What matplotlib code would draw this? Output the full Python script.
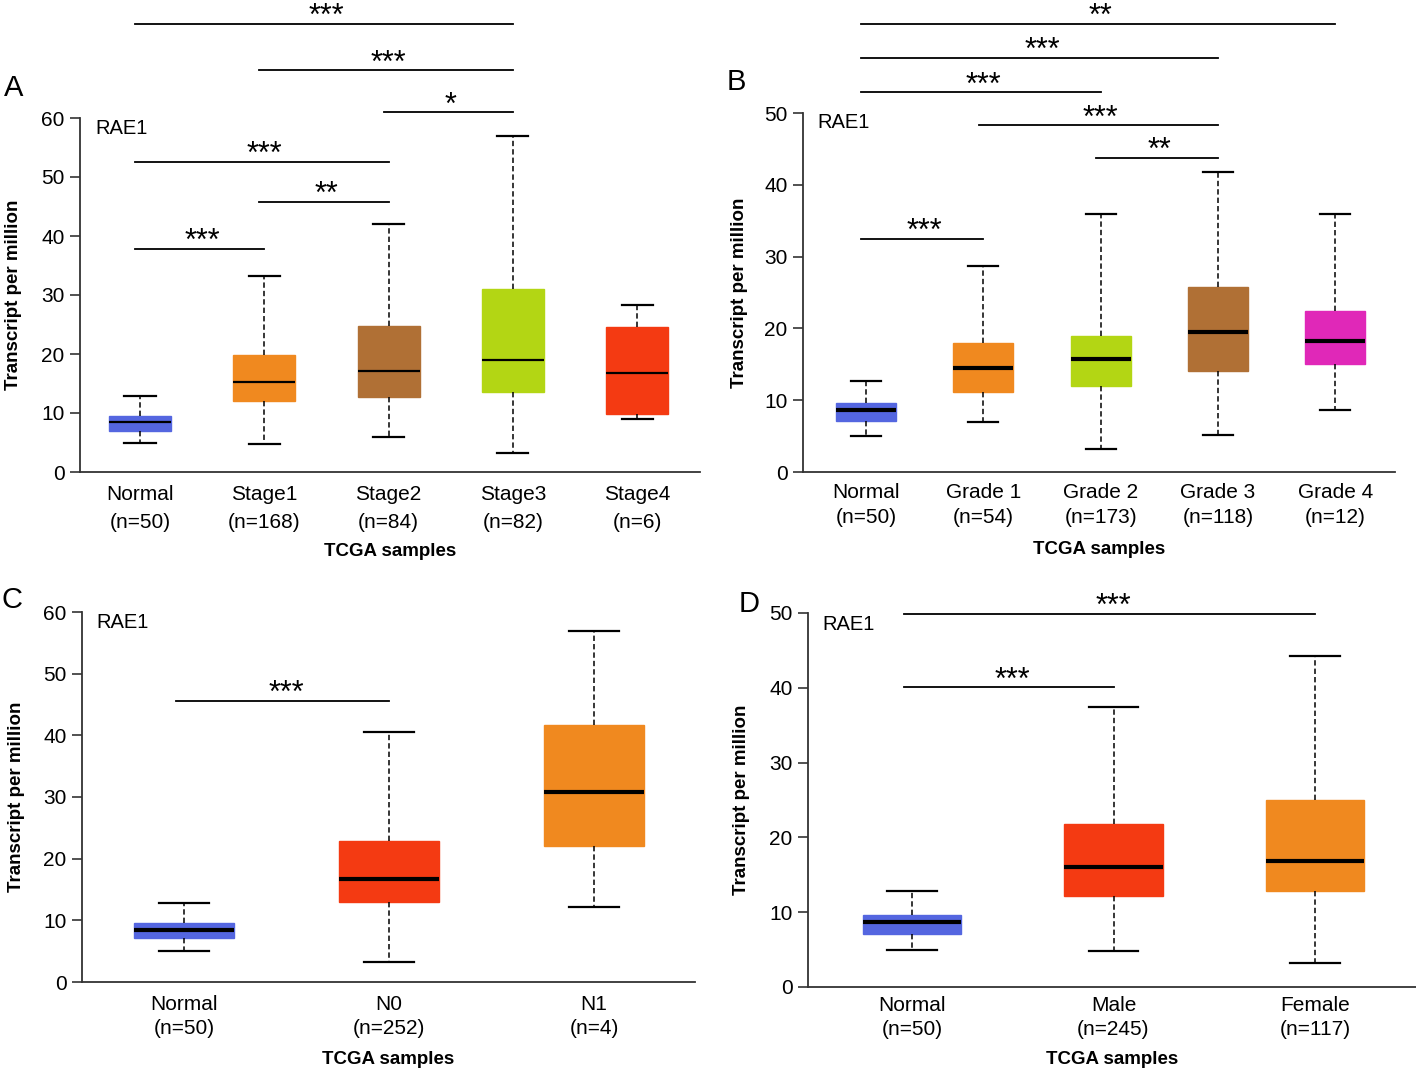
import matplotlib
matplotlib.use("Agg")
import matplotlib.pyplot as plt

plt.rcParams['font.family'] = ['Liberation Sans', 'DejaVu Sans']

# ---------------- data ----------------
# Panel A (stage)
a_labels = ["Normal\n(n=50)", "Stage1\n(n=168)", "Stage2\n(n=84)", "Stage3\n(n=82)", "Stage4\n(n=6)"]
a_low = [5.0, 4.8, 6.0, 3.3, 9.0]
a_q1 = [7.0, 12.0, 12.7, 13.5, 9.8]
a_med = [8.5, 15.2, 17.2, 19.0, 16.8]
a_q3 = [9.5, 19.8, 24.8, 31.0, 24.5]
a_high = [12.8, 33.3, 42.0, 57.0, 28.3]
a_colors = ["#5466e0", "#f0891f", "#b07035", "#b3d614", "#f43a12"]
a_sig = [(0, 3, 76.0, "***"), (1, 3, 68.1, "***"), (2, 3, 61.0, "*"),
         (0, 2, 52.6, "***"), (1, 2, 45.8, "**"), (0, 1, 37.8, "***")]

# Panel B (grade)
b_labels = ["Normal\n(n=50)", "Grade 1\n(n=54)", "Grade 2\n(n=173)", "Grade 3\n(n=118)", "Grade 4\n(n=12)"]
b_low = [5.0, 7.0, 3.2, 5.1, 8.7]
b_q1 = [7.1, 11.2, 12.0, 14.0, 15.1]
b_med = [8.6, 14.5, 15.7, 19.5, 18.3]
b_q3 = [9.6, 17.9, 19.0, 25.7, 22.4]
b_high = [12.7, 28.7, 36.0, 41.8, 36.0]
b_colors = ["#5466e0", "#f0891f", "#b3d614", "#b07035", "#e028b8"]
b_sig = [(0, 4, 62.4, "**"), (0, 3, 57.7, "***"), (0, 2, 52.9, "***"),
         (1, 3, 48.3, "***"), (2, 3, 43.8, "**"), (0, 1, 32.5, "***")]

# Panel C (nodal metastasis)
c_labels = ["Normal\n(n=50)", "N0\n(n=252)", "N1\n(n=4)"]
c_low = [5.0, 3.2, 12.2]
c_q1 = [7.2, 13.0, 22.0]
c_med = [8.5, 16.7, 30.8]
c_q3 = [9.5, 22.9, 41.6]
c_high = [12.8, 40.6, 57.0]
c_colors = ["#5466e0", "#f43a12", "#f0891f"]
c_sig = [(0, 1, 45.6, "***")]

# Panel D (gender)
d_labels = ["Normal\n(n=50)", "Male\n(n=245)", "Female\n(n=117)"]
d_low = [5.0, 4.8, 3.2]
d_q1 = [7.1, 12.2, 12.8]
d_med = [8.7, 16.0, 16.8]
d_q3 = [9.6, 21.8, 25.0]
d_high = [12.8, 37.4, 44.3]
d_colors = ["#5466e0", "#f43a12", "#f0891f"]
d_sig = [(0, 2, 49.9, "***"), (0, 1, 40.1, "***")]

W, H = 1416, 1071
fig = plt.figure(figsize=(W / 100, H / 100), dpi=100)


def px_axes(left, right, bottom, top):
    return fig.add_axes([left / W, 1 - bottom / H, (right - left) / W, (bottom - top) / H])


def panel(ax, labels, low, q1, med, q3, high, colors, sig, ymax, ystep, xlim,
          bw, medlw, letter, letter_xy, rae_xy, ylab_x, xlab_y, lsp, xpad):
    stats = []
    for i in range(len(labels)):
        stats.append(dict(whislo=low[i], q1=q1[i], med=med[i], q3=q3[i], whishi=high[i],
                          fliers=[], label=labels[i]))
    pos = list(range(len(labels)))
    bp = ax.bxp(stats, positions=pos, widths=bw, patch_artist=True, showfliers=False,
                capwidths=bw * 0.5,
                whiskerprops=dict(color="black", lw=1.1, linestyle=(0, (3.5, 2))),
                capprops=dict(color="black", lw=1.6),
                medianprops=dict(color="black", lw=medlw),
                boxprops=dict(lw=1.0))
    for patch, c in zip(bp["boxes"], colors):
        patch.set_facecolor(c)
        patch.set_edgecolor(c)
    ax.set_xlim(*xlim)
    ax.set_ylim(0, ymax)
    ax.set_yticks(list(range(0, ymax + 1, ystep)))
    ax.spines["top"].set_visible(False)
    ax.spines["right"].set_visible(False)
    for s in ("left", "bottom"):
        ax.spines[s].set_linewidth(1.3)
        ax.spines[s].set_color("#333333")
    ax.tick_params(axis="y", direction="out", length=7, width=1.2, labelsize=15, pad=4,
                   color="#333333")
    ax.tick_params(axis="x", length=0, labelsize=15, pad=xpad)
    ax.set_xticks(pos)
    ax.set_xticklabels(labels, linespacing=lsp)
    fig.text(rae_xy[0] / W, 1 - rae_xy[1] / H, "RAE1", fontsize=14.5, va="center", ha="left")
    for (i, j, y, s) in sig:
        ax.plot([i - 0.04, j], [y, y], color="black", lw=1.3, clip_on=False)
        ax.annotate(s, xy=((i + j) / 2, y), xytext=(0, -1), textcoords="offset points",
                    ha="center", va="baseline", fontsize=22, annotation_clip=False)
    fig.text(letter_xy[0] / W, 1 - letter_xy[1] / H, letter, fontsize=21, ha="center", va="center")
    p = ax.get_position()
    fig.text(ylab_x / W, (p.y0 + p.y1) / 2, "Transcript per million", rotation=90,
             fontsize=13.5, fontweight="bold", ha="center", va="center")
    fig.text((p.x0 + p.x1) / 2, 1 - xlab_y / H, "TCGA samples",
             fontsize=13.5, fontweight="bold", ha="center", va="center")


axA = px_axes(80, 700, 472, 118)
panel(axA, a_labels, a_low, a_q1, a_med, a_q3, a_high, a_colors, a_sig, 60, 10,
      ((80 - 140) / 124.3, (700 - 140) / 124.3), 0.5, 1.6, "A", (14, 88), (95, 128), 14, 552,
      1.65, 9)

axB = px_axes(803, 1395, 472, 113)
panel(axB, b_labels, b_low, b_q1, b_med, b_q3, b_high, b_colors, b_sig, 50, 10,
      ((803 - 866) / 117.3, (1395 - 866) / 117.3), 0.51, 3.0, "B", (736, 82), (817, 123), 740, 549,
      1.42, 8)

axC = px_axes(82, 695, 982, 612)
panel(axC, c_labels, c_low, c_q1, c_med, c_q3, c_high, c_colors, c_sig, 60, 10,
      ((82 - 184) / 205.0, (695 - 184) / 205.0), 0.49, 3.0, "C", (12, 600), (96, 623), 17, 1060,
      1.3, 9.5)

axD = px_axes(808, 1416, 987, 613)
panel(axD, d_labels, d_low, d_q1, d_med, d_q3, d_high, d_colors, d_sig, 50, 10,
      ((808 - 912) / 201.5, (1416 - 912) / 201.5), 0.49, 3.0, "D", (749, 604), (822, 625), 742, 1060,
      1.3, 6.5)

fig.savefig("out.png", dpi=100, facecolor="white")
